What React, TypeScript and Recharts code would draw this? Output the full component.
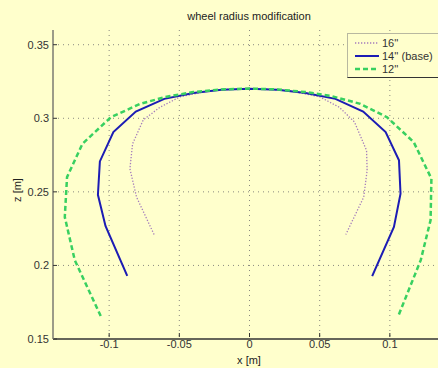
import { CartesianGrid, Line, LineChart, XAxis, YAxis } from 'recharts';

type Pt = { x: number; z: number };

// Contact profiles for three wheel radii, x and z in metres
const wheel16: Pt[] = [
  { x: -0.068, z: 0.221 },
  { x: -0.0805, z: 0.2465 },
  { x: -0.0852, z: 0.2657 },
  { x: -0.0833, z: 0.2827 },
  { x: -0.0757, z: 0.2989 },
  { x: -0.0638, z: 0.3075 },
  { x: -0.0495, z: 0.3146 },
  { x: -0.03, z: 0.3185 },
  { x: -0.015, z: 0.3197 },
  { x: 0, z: 0.32 },
  { x: 0.015, z: 0.3197 },
  { x: 0.03, z: 0.3185 },
  { x: 0.05, z: 0.3146 },
  { x: 0.064, z: 0.3075 },
  { x: 0.0748, z: 0.2975 },
  { x: 0.0834, z: 0.2781 },
  { x: 0.0838, z: 0.2646 },
  { x: 0.0814, z: 0.2465 },
  { x: 0.0686, z: 0.221 },
];

const wheel14: Pt[] = [
  { x: -0.0871, z: 0.1929 },
  { x: -0.1026, z: 0.2268 },
  { x: -0.108, z: 0.248 },
  { x: -0.1066, z: 0.2707 },
  { x: -0.097, z: 0.2906 },
  { x: -0.081, z: 0.3046 },
  { x: -0.0607, z: 0.3132 },
  { x: -0.04, z: 0.3172 },
  { x: -0.02, z: 0.3194 },
  { x: 0, z: 0.32 },
  { x: 0.02, z: 0.3194 },
  { x: 0.04, z: 0.3172 },
  { x: 0.0612, z: 0.3132 },
  { x: 0.081, z: 0.3046 },
  { x: 0.097, z: 0.2906 },
  { x: 0.1065, z: 0.2714 },
  { x: 0.1076, z: 0.2488 },
  { x: 0.1029, z: 0.2261 },
  { x: 0.0874, z: 0.1927 },
];

const wheel12: Pt[] = [
  { x: -0.106, z: 0.1656 },
  { x: -0.1245, z: 0.2036 },
  { x: -0.1316, z: 0.2329 },
  { x: -0.13, z: 0.26 },
  { x: -0.119, z: 0.2827 },
  { x: -0.0988, z: 0.3007 },
  { x: -0.078, z: 0.3098 },
  { x: -0.059, z: 0.3147 },
  { x: -0.04, z: 0.3178 },
  { x: -0.02, z: 0.3196 },
  { x: 0, z: 0.3202 },
  { x: 0.02, z: 0.3196 },
  { x: 0.04, z: 0.3178 },
  { x: 0.0576, z: 0.3153 },
  { x: 0.079, z: 0.3098 },
  { x: 0.098, z: 0.3007 },
  { x: 0.117, z: 0.2838 },
  { x: 0.1296, z: 0.259 },
  { x: 0.129, z: 0.2307 },
  { x: 0.122, z: 0.2036 },
  { x: 0.106, z: 0.1656 },
];

const xTicks = [-0.1, -0.05, 0, 0.05, 0.1];
const zTicks = [0.15, 0.2, 0.25, 0.3, 0.35];

const series = [
  { name: "16''", data: wheel16, color: '#a47cbc', width: 1.3, dash: '1.3 1.7' },
  { name: "14'' (base)", data: wheel14, color: '#1c1cb4', width: 2, dash: undefined },
  { name: "12''", data: wheel12, color: '#38d060', width: 2.5, dash: '5 3' },
];

const FONT = '"Liberation Sans", Arial, sans-serif';
const BG = '#ffffcc';

function XTick(props: any) {
  const { x, y, payload } = props;
  return (
    <g>
      <line x1={x} y1={y - 4} x2={x} y2={y - 8} stroke="#333" strokeWidth={1} />
      <text x={x} y={y + 7} textAnchor="middle" fontSize={11} fill="#333" fontFamily={FONT}>
        {payload.value}
      </text>
    </g>
  );
}

function ZTick(props: any) {
  const { x, y, payload } = props;
  return (
    <g>
      <line x1={x + 4} y1={y} x2={x + 8} y2={y} stroke="#333" strokeWidth={1} />
      <text x={x} y={y + 4} textAnchor="end" fontSize={11} fill="#333" fontFamily={FONT}>
        {payload.value}
      </text>
    </g>
  );
}

function LegendBox() {
  return (
    <div
      style={{
        position: 'absolute',
        left: 347,
        top: 33,
        width: 100,
        height: 43,
        borderTop: '1px solid #b8b8a0',
        borderLeft: '1px solid #b8b8a0',
        borderBottom: '1.5px solid #333',
        background: BG,
        fontFamily: FONT,
        fontSize: 11,
        color: '#333',
      }}
    >
      {series.map((s, i) => (
        <div key={s.name} style={{ position: 'absolute', left: 0, top: 2 + i * 13, height: 13, display: 'flex', alignItems: 'center' }}>
          <svg width={34} height={13}>
            <line x1={7} x2={31} y1={7} y2={7} stroke={s.color} strokeWidth={s.width} strokeDasharray={s.dash} />
          </svg>
          <span>{s.name}</span>
        </div>
      ))}
    </div>
  );
}

export default function App() {
  return (
    <div
      style={{
        position: 'fixed',
        left: 0,
        top: 0,
        width: 438,
        height: 368,
        overflow: 'hidden',
        background: BG,
        fontFamily: FONT,
      }}
    >
      <div style={{ position: 'absolute', left: 0, width: 498, top: 10, textAlign: 'center', fontSize: 11, color: '#222' }}>
        wheel radius modification
      </div>
      <div style={{ position: 'absolute', left: 0, width: 498, top: 354, textAlign: 'center', fontSize: 11, color: '#222' }}>
        x [m]
      </div>
      <div
        style={{
          position: 'absolute',
          left: 17,
          top: 190,
          fontSize: 11,
          color: '#222',
          transform: 'translate(-50%, -50%) rotate(-90deg)',
          whiteSpace: 'nowrap',
        }}
      >
        z [m]
      </div>
      <LineChart width={446} height={368} margin={{ top: 30, right: 0, bottom: 0, left: 0 }}>
        <CartesianGrid
          stroke="#8a8a80"
          strokeDasharray="1 4"
          horizontalValues={[0.2, 0.25, 0.3, 0.35]}
          verticalValues={xTicks}
        />
        <XAxis
          type="number"
          dataKey="x"
          domain={[-0.14, 0.14]}
          ticks={xTicks}
          height={29}
          axisLine={{ stroke: '#333', strokeWidth: 1.5 }}
          tickLine={false}
          tickSize={0}
          tick={<XTick />}
          allowDataOverflow
        />
        <YAxis
          type="number"
          dataKey="z"
          domain={[0.15, 0.36]}
          ticks={zTicks}
          width={53}
          axisLine={{ stroke: '#9c9c88', strokeWidth: 2 }}
          tickLine={false}
          tickSize={0}
          tickMargin={4}
          tick={<ZTick />}
          allowDataOverflow
        />
        {series.map((s) => (
          <Line
            key={s.name}
            data={s.data}
            dataKey="z"
            type="linear"
            stroke={s.color}
            strokeWidth={s.width}
            strokeDasharray={s.dash}
            dot={false}
            isAnimationActive={false}
          />
        ))}
      </LineChart>
      <LegendBox />
    </div>
  );
}
